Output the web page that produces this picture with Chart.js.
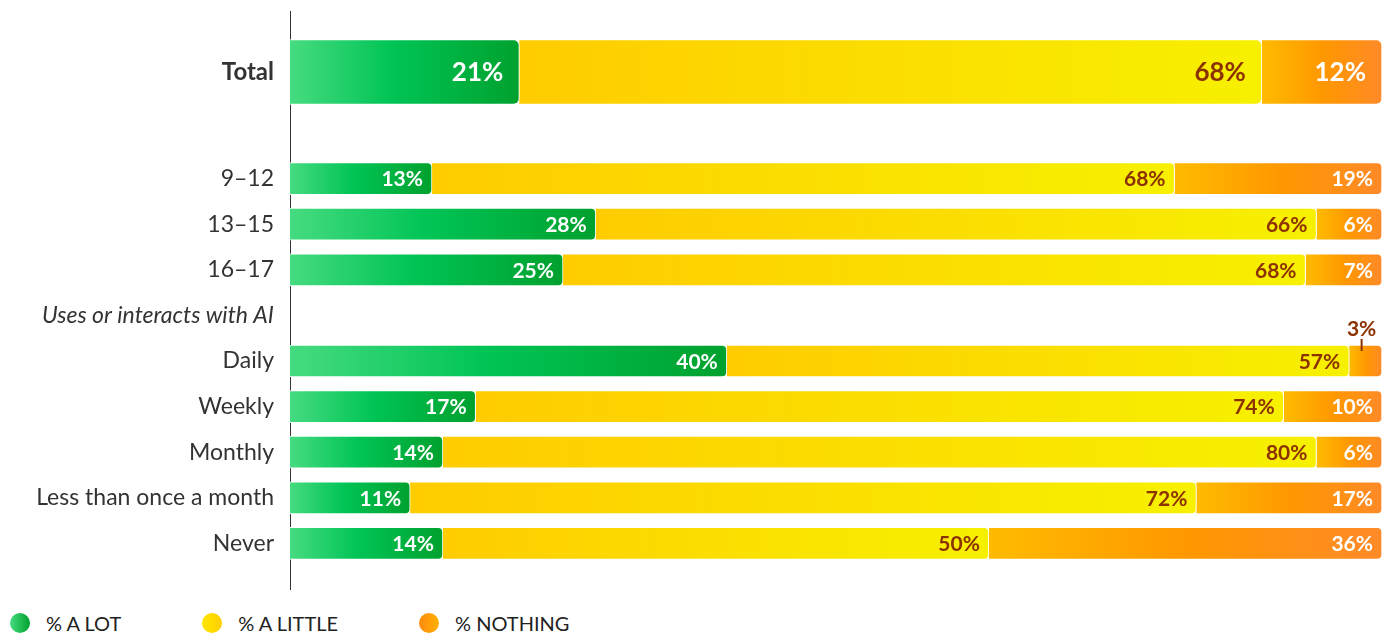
<!DOCTYPE html>
<html>
<head>
<meta charset="utf-8">
<title>AI usage chart</title>
<script src="https://cdn.jsdelivr.net/npm/chart.js@4.4.1/dist/chart.umd.min.js"></script>
<style>
  html, body { margin: 0; padding: 0; background: #fff; overflow: hidden; }
  body { font-family: Lato, 'Open Sans', sans-serif; }
  .chart-box { position: relative; width: 1382px; height: 600px; }
  .legend { position: absolute; left: 10px; top: 612px; display: flex; align-items: center; }
  .legend-item { display: flex; align-items: center; margin-right: 81px; font-size: 20px; color: #222; line-height: 22px; }
  .legend-dot { width: 20px; height: 20px; border-radius: 50%; margin-right: 16px; }
</style>
</head>
<body>
<div class="chart-box"><canvas id="chart"></canvas></div>
<div class="legend" id="legend"></div>

<script>
// Kategorien
const totalLabels = ['Total'];
const groups = ['9–12', '13–15', '16–17', 'Uses or interacts with AI', 'Daily', 'Weekly', 'Monthly', 'Less than once a month', 'Never'];
const seriesNames = ['% A LOT', '% A LITTLE', '% NOTHING'];

// Werte (Prozent)
const totalALot = [21];
const totalALittle = [68];
const totalNothing = [12];
const aLot = [13, 28, 25, null, 40, 17, 14, 11, 14];
const aLittle = [68, 66, 68, null, 57, 74, 80, 72, 50];
const nothing = [19, 6, 7, null, 3, 10, 6, 17, 36];

// Farben
const greenStops = [[0, '#46db80'], [0.45, '#00c455'], [1, '#00a12e']];
const yellowStops = [[0, '#ffcc00'], [1, '#f7f000']];
const orangeStops = [[0, '#ffbb00'], [0.5, '#ff9800'], [1, '#ff8a28']];
const labelColors = ['#ffffff', '#8c3100', '#ffffff'];
const legendCss = [
  'linear-gradient(90deg, #46db80, #00a12e)',
  'linear-gradient(90deg, #ffe600, #ffcf00)',
  'linear-gradient(90deg, #ff8a10, #ffb000)'
];

// Floating-Bereiche [start, ende] pro Zeile (gerundete Werte, Ende max. 100)
function toRanges(series) {
  const ranges = series.map(() => []);
  series[0].forEach((_, i) => {
    const vals = series.map(s => s[i]);
    if (vals[0] === null) { series.forEach((_, k) => ranges[k].push(null)); return; }
    let start = 0;
    vals.forEach((v, k) => {
      const end = Math.min(start + v, 100);
      ranges[k].push([start, end]);
      start = end;
    });
  });
  return ranges;
}

const totalRanges = toRanges([totalALot, totalALittle, totalNothing]);
// leere Kategorie oben und unten für die Abstände
const pad = arr => [null, ...arr, null];
const rowRanges = toRanges([aLot, aLittle, nothing]).map(pad);
const rowValues = [aLot, aLittle, nothing].map(pad);
const rowLabels = pad(groups).map(l => l || '');

// Verlauf für jedes Segment
function segGradient(stops) {
  return ctx => {
    const chart = ctx.chart;
    const range = ctx.raw;
    if (!chart.chartArea || !Array.isArray(range)) return stops[0][1];
    const x = chart.scales.x;
    const g = chart.ctx.createLinearGradient(x.getPixelForValue(range[0]), 0, x.getPixelForValue(range[1]), 0);
    stops.forEach(s => g.addColorStop(s[0], s[1]));
    return g;
  };
}
const allStops = [greenStops, yellowStops, orangeStops];

function makeDataset(k, data, values, axis, thickness, radius, big) {
  return {
    label: seriesNames[k],
    data: data,
    values: values,
    labelColor: labelColors[k],
    big: big,
    yAxisID: axis,
    backgroundColor: segGradient(allStops[k]),
    borderColor: '#ffffff',
    borderWidth: 1,
    borderSkipped: 'start',
    borderRadius: radius,
    barThickness: thickness,
    grouped: false
  };
}

const datasets = [];
[totalALot, totalALittle, totalNothing].forEach((vals, k) => {
  datasets.push(makeDataset(k, totalRanges[k], vals, 'yT', 65, 6, true));
});
[0, 1, 2].forEach(k => {
  datasets.push(makeDataset(k, rowRanges[k], rowValues[k], 'y', 32, 5, false));
});

// Prozentwerte in die Balken schreiben
const barLabels = {
  id: 'barLabels',
  afterDatasetsDraw(chart) {
    const c = chart.ctx;
    chart.data.datasets.forEach((ds, di) => {
      const meta = chart.getDatasetMeta(di);
      meta.data.forEach((bar, i) => {
        const v = ds.values[i];
        if (v === null || v === undefined) return;
        const text = v + '%';
        c.save();
        c.font = (ds.big ? 'bold 26px' : 'bold 21px') + ' Lato, sans-serif';
        const tw = c.measureText(text).width;
        const padX = ds.big ? 16 : 9;
        const w = bar.x - bar.base;
        if (w < tw + padX * 2) {
          // zu schmal: Wert über dem Balken mit kleinem Strich
          const cx = (bar.x + bar.base) / 2 - 4;
          const top = bar.y - bar.height / 2;
          c.fillStyle = labelColors[1];
          c.textAlign = 'center';
          c.textBaseline = 'alphabetic';
          c.fillText(text, cx, top - 9);
          c.strokeStyle = labelColors[1];
          c.lineWidth = 2;
          c.beginPath();
          c.moveTo(cx, top - 6);
          c.lineTo(cx, top + 6);
          c.stroke();
        } else {
          c.fillStyle = ds.labelColor;
          c.textAlign = 'right';
          c.textBaseline = 'middle';
          c.fillText(text, bar.x - padX, bar.y + 1);
        }
        c.restore();
      });
    });
  }
};

// feste Breite der Achse, keine Extra-Ränder durch die Beschriftung
function fixAxis(s) {
  s.width = 290;
  s.paddingTop = 0;
  s.paddingBottom = 0;
}

new Chart(document.getElementById('chart'), {
  type: 'bar',
  data: { datasets: datasets },
  options: {
    indexAxis: 'y',
    responsive: true,
    maintainAspectRatio: false,
    animation: false,
    layout: { padding: { top: 11, bottom: 11, left: 0, right: 0 } },
    scales: {
      x: { type: 'linear', min: 0, max: 100, display: false },
      yT: {
        type: 'category',
        labels: totalLabels,
        offset: true,
        position: 'left',
        stack: 'rows',
        stackWeight: 122,
        weight: 2,
        afterFit: fixAxis,
        grid: { display: false, drawTicks: false },
        border: { display: true, color: '#333', width: 1 },
        ticks: { padding: 16, color: '#333', font: { family: 'Lato', size: 24, weight: 'bold' } }
      },
      y: {
        type: 'category',
        labels: rowLabels,
        offset: false,
        position: 'left',
        stack: 'rows',
        stackWeight: 456,
        weight: 1,
        afterFit: fixAxis,
        grid: { display: false, drawTicks: false },
        border: { display: true, color: '#333', width: 1 },
        ticks: {
          padding: 16,
          color: '#333',
          autoSkip: false,
          font: ctx => ({
            family: 'Lato',
            size: 23,
            style: rowLabels[ctx.index] === groups[3] ? 'italic' : 'normal'
          })
        }
      }
    },
    plugins: {
      legend: { display: false },
      tooltip: { enabled: false }
    }
  },
  plugins: [barLabels]
});

// Legende
const legend = document.getElementById('legend');
seriesNames.forEach((name, k) => {
  const item = document.createElement('div');
  item.className = 'legend-item';
  item.innerHTML = `<span class="legend-dot" style="background:${legendCss[k]}"></span><span>${name}</span>`;
  legend.appendChild(item);
});
</script>
</body>
</html>
